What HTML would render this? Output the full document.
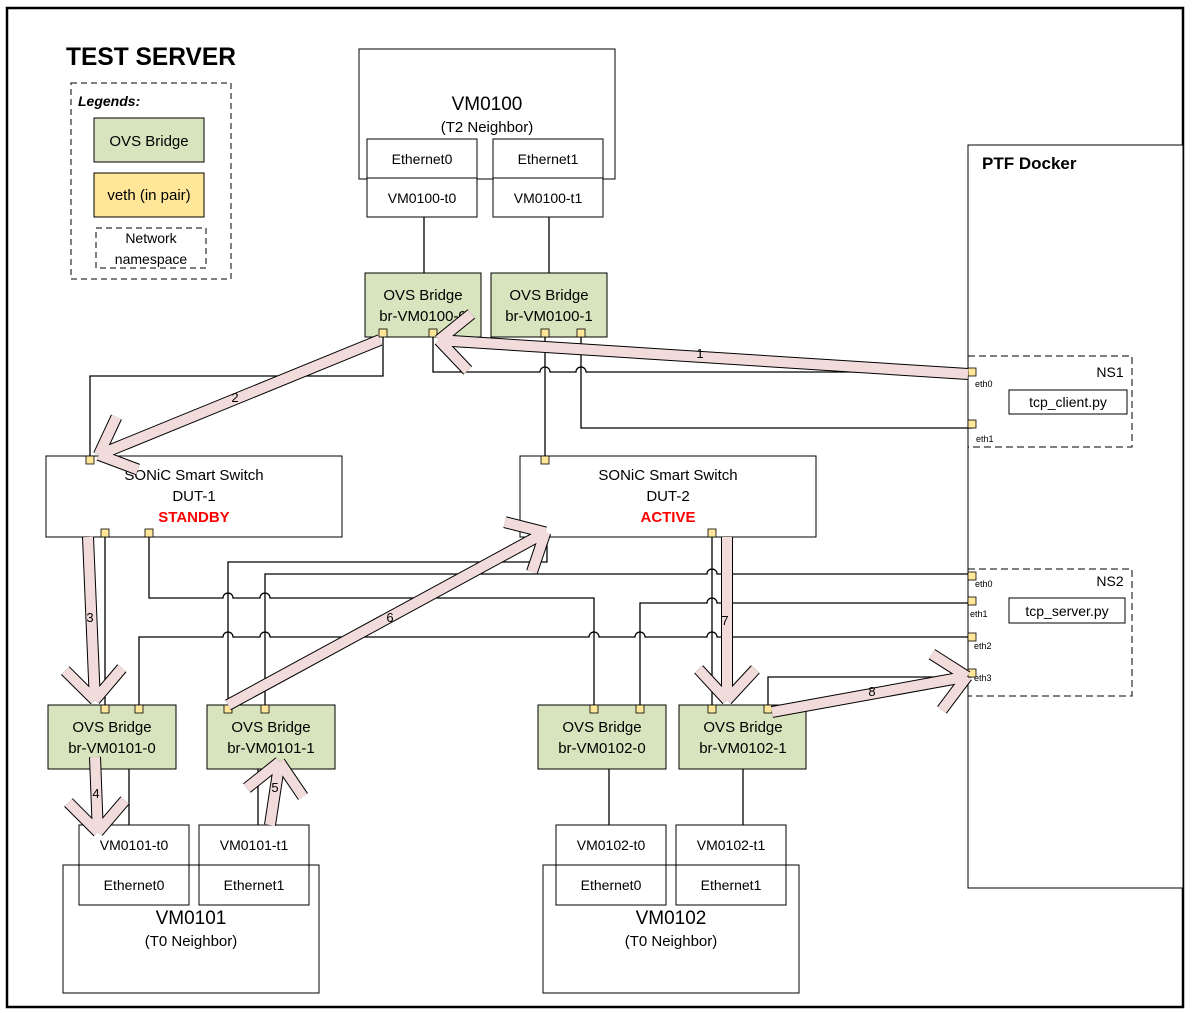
<!DOCTYPE html>
<html><head><meta charset="utf-8"><style>
body{margin:0;background:#fff}
svg{display:block;font-family:"Liberation Sans",sans-serif}
</style></head><body>
<svg id="s" width="1194" height="1013" viewBox="0 0 1194 1013" xmlns="http://www.w3.org/2000/svg">
<rect x="7" y="8" width="1176" height="999" fill="#fff" stroke="#000" stroke-width="2.5"/>
<text x="66" y="65" font-size="25" font-weight="bold" textLength="170" lengthAdjust="spacingAndGlyphs">TEST SERVER</text>
<rect x="71" y="83" width="160" height="196" fill="none" stroke="#000" stroke-dasharray="6,4"/>
<text x="78" y="106" font-size="14" font-weight="bold" font-style="italic">Legends:</text>
<rect x="94" y="118" width="110" height="44" fill="#d7e4bd" stroke="#000"/>
<text x="149" y="146" font-size="15" text-anchor="middle">OVS Bridge</text>
<rect x="94" y="173" width="110" height="44" fill="#ffe699" stroke="#000"/>
<text x="149" y="200" font-size="15" text-anchor="middle">veth (in pair)</text>
<rect x="96" y="228" width="110" height="40" fill="none" stroke="#000" stroke-dasharray="6,4"/>
<text x="151" y="243" font-size="14" text-anchor="middle">Network</text>
<text x="151" y="264" font-size="14" text-anchor="middle">namespace</text>

<!-- VM0100 -->
<rect x="359" y="49" width="256" height="130" fill="#fff" stroke="#000"/>
<text x="487" y="110" font-size="19" text-anchor="middle">VM0100</text>
<text x="487" y="132" font-size="15" text-anchor="middle">(T2 Neighbor)</text>
<g fill="#fff" stroke="#000">
<rect x="367" y="139" width="110" height="39"/><rect x="367" y="178" width="110" height="39"/>
<rect x="493" y="139" width="110" height="39"/><rect x="493" y="178" width="110" height="39"/>
</g>
<g font-size="14" text-anchor="middle">
<text x="422" y="164">Ethernet0</text><text x="422" y="203">VM0100-t0</text>
<text x="548" y="164">Ethernet1</text><text x="548" y="203">VM0100-t1</text>
</g>

<!-- PTF -->
<rect x="968" y="145" width="215" height="743" fill="#fff" stroke="#000"/>
<text x="982" y="169" font-size="17" font-weight="bold">PTF Docker</text>
<rect x="968" y="356" width="164" height="91" fill="none" stroke="#000" stroke-dasharray="7,4"/>
<text x="1110" y="377" font-size="14" text-anchor="middle">NS1</text>
<rect x="1009" y="390" width="118" height="24" fill="#fff" stroke="#000"/>
<text x="1068" y="407" font-size="14" text-anchor="middle">tcp_client.py</text>
<rect x="968" y="569" width="164" height="127" fill="none" stroke="#000" stroke-dasharray="7,4"/>
<text x="1110" y="586" font-size="14" text-anchor="middle">NS2</text>
<rect x="1009" y="598" width="116" height="25" fill="#fff" stroke="#000"/>
<text x="1067" y="616" font-size="14" text-anchor="middle">tcp_server.py</text>
<g font-size="9">
<text x="975" y="387">eth0</text><text x="976" y="442">eth1</text>
<text x="975" y="587">eth0</text><text x="970" y="617">eth1</text>
<text x="974" y="649">eth2</text><text x="974" y="681">eth3</text>
</g>

<!-- DUTs -->
<rect x="46" y="456" width="296" height="81" fill="#fff" stroke="#000"/>
<text x="194" y="480" font-size="15" text-anchor="middle">SONiC Smart Switch</text>
<text x="194" y="501" font-size="15" text-anchor="middle">DUT-1</text>
<text x="194" y="522" font-size="15" font-weight="bold" fill="#f00" text-anchor="middle">STANDBY</text>
<rect x="520" y="456" width="296" height="81" fill="#fff" stroke="#000"/>
<text x="668" y="480" font-size="15" text-anchor="middle">SONiC Smart Switch</text>
<text x="668" y="501" font-size="15" text-anchor="middle">DUT-2</text>
<text x="668" y="522" font-size="15" font-weight="bold" fill="#f00" text-anchor="middle">ACTIVE</text>

<!-- bridges -->
<g fill="#d7e4bd" stroke="#000">
<rect x="365" y="273" width="116" height="64"/><rect x="491" y="273" width="116" height="64"/>
<rect x="48" y="705" width="128" height="64"/><rect x="207" y="705" width="128" height="64"/>
<rect x="538" y="705" width="128" height="64"/><rect x="679" y="705" width="127" height="64"/>
</g>
<g font-size="15" text-anchor="middle">
<text x="423" y="300">OVS Bridge</text><text x="423" y="321">br-VM0100-0</text>
<text x="549" y="300">OVS Bridge</text><text x="549" y="321">br-VM0100-1</text>
<text x="112" y="732">OVS Bridge</text><text x="112" y="753">br-VM0101-0</text>
<text x="271" y="732">OVS Bridge</text><text x="271" y="753">br-VM0101-1</text>
<text x="602" y="732">OVS Bridge</text><text x="602" y="753">br-VM0102-0</text>
<text x="743" y="732">OVS Bridge</text><text x="743" y="753">br-VM0102-1</text>
</g>

<!-- bottom VMs -->
<rect x="63" y="865" width="256" height="128" fill="#fff" stroke="#000"/>
<rect x="543" y="865" width="256" height="128" fill="#fff" stroke="#000"/>
<g fill="#fff" stroke="#000">
<rect x="79" y="825" width="110" height="40"/><rect x="79" y="865" width="110" height="40"/>
<rect x="199" y="825" width="110" height="40"/><rect x="199" y="865" width="110" height="40"/>
<rect x="556" y="825" width="110" height="40"/><rect x="556" y="865" width="110" height="40"/>
<rect x="676" y="825" width="110" height="40"/><rect x="676" y="865" width="110" height="40"/>
</g>
<g font-size="14" text-anchor="middle">
<text x="134" y="850">VM0101-t0</text><text x="134" y="890">Ethernet0</text>
<text x="254" y="850">VM0101-t1</text><text x="254" y="890">Ethernet1</text>
<text x="611" y="850">VM0102-t0</text><text x="611" y="890">Ethernet0</text>
<text x="731" y="850">VM0102-t1</text><text x="731" y="890">Ethernet1</text>
</g>
<text x="191" y="924" font-size="19" text-anchor="middle">VM0101</text>
<text x="191" y="946" font-size="15" text-anchor="middle">(T0 Neighbor)</text>
<text x="671" y="924" font-size="19" text-anchor="middle">VM0102</text>
<text x="671" y="946" font-size="15" text-anchor="middle">(T0 Neighbor)</text>

<!-- connectors -->
<g fill="none" stroke="#000" stroke-width="1.3">
<path d="M424 217V273M549 217V273"/>
<path d="M383 337V376H90V456"/>
<path d="M433 337V372H540a5 5 0 0 1 10 0H576a5 5 0 0 1 10 0H972"/>
<path d="M545 337V456"/>
<path d="M581 337V428H972"/>
<path d="M105 537V705"/>
<path d="M149 537V598H223a5 5 0 0 1 10 0H260a5 5 0 0 1 10 0H594V705"/>
<path d="M712 537V705"/>
<path d="M228 705V562H547V537"/>
<path d="M265 705V574H707a5 5 0 0 1 10 0H972"/>
<path d="M640 705V603H707a5 5 0 0 1 10 0H972"/>
<path d="M139 705V637H223a5 5 0 0 1 10 0H260a5 5 0 0 1 10 0H589a5 5 0 0 1 10 0H635a5 5 0 0 1 10 0H707a5 5 0 0 1 10 0H972"/>
<path d="M768 705V677H972"/>
<path d="M129 769V825M258 769V825M609 769V825M743 769V825"/>
</g>
<!-- ports -->
<g fill="#ffe699" stroke="#000" stroke-width="0.8" id="ports"></g>
<g id="arrows"></g>
</svg>
<script>
var ports=[[383,333],[433,333],[545,333],[581,333],[90,460],[105,533],[149,533],[545,460],[712,533],
[105,709],[139,709],[228,709],[265,709],[594,709],[640,709],[712,709],[768,709],
[972,372],[972,424],[972,576],[972,601],[972,637],[972,673]];
var ns="http://www.w3.org/2000/svg",pg=document.getElementById('ports');
ports.forEach(function(p){var r=document.createElementNS(ns,'rect');r.setAttribute('x',p[0]-4);r.setAttribute('y',p[1]-4);r.setAttribute('width',8);r.setAttribute('height',8);pg.appendChild(r);});
var arrows=[[968,374,436,340,'1',700,358],[380,340,96,456,'2',235,402],[88,537,95,703,'3',90,622],
[95,757,98,835,'4',96,798],[270,825,280,759,'5',275,792],[228,705,548,531,'6',390,622],
[727,537,727,703,'7',725,625],[772,712,970,676,'8',872,696]];
var ag=document.getElementById('arrows');
function ln(x1,y1,x2,y2,c,w){var l=document.createElementNS(ns,'line');l.setAttribute('x1',x1);l.setAttribute('y1',y1);l.setAttribute('x2',x2);l.setAttribute('y2',y2);l.setAttribute('stroke',c);l.setAttribute('stroke-width',w);ag.appendChild(l);}
var segs=[];
arrows.forEach(function(a){var dx=a[2]-a[0],dy=a[3]-a[1],L=Math.hypot(dx,dy),ux=dx/L,uy=dy/L;
 segs.push([a[0],a[1],a[2]-ux*4,a[3]-uy*4]);
 [0.7,-0.7].forEach(function(t){var c=Math.cos(Math.PI-t),s=Math.sin(Math.PI-t);var bx=ux*c-uy*s,by=ux*s+uy*c;
  segs.push([a[2]-ux*3,a[3]-uy*3,a[2]+bx*44,a[3]+by*44]);});});
segs.forEach(function(s){ln(s[0],s[1],s[2],s[3],'#000',12);});
segs.forEach(function(s){ln(s[0],s[1],s[2],s[3],'#f2dcdb',10);});
arrows.forEach(function(a){var t=document.createElementNS(ns,'text');t.setAttribute('x',a[5]);t.setAttribute('y',a[6]);t.setAttribute('font-size','13');t.setAttribute('text-anchor','middle');t.textContent=a[4];ag.appendChild(t);});
</script>
</body></html>
